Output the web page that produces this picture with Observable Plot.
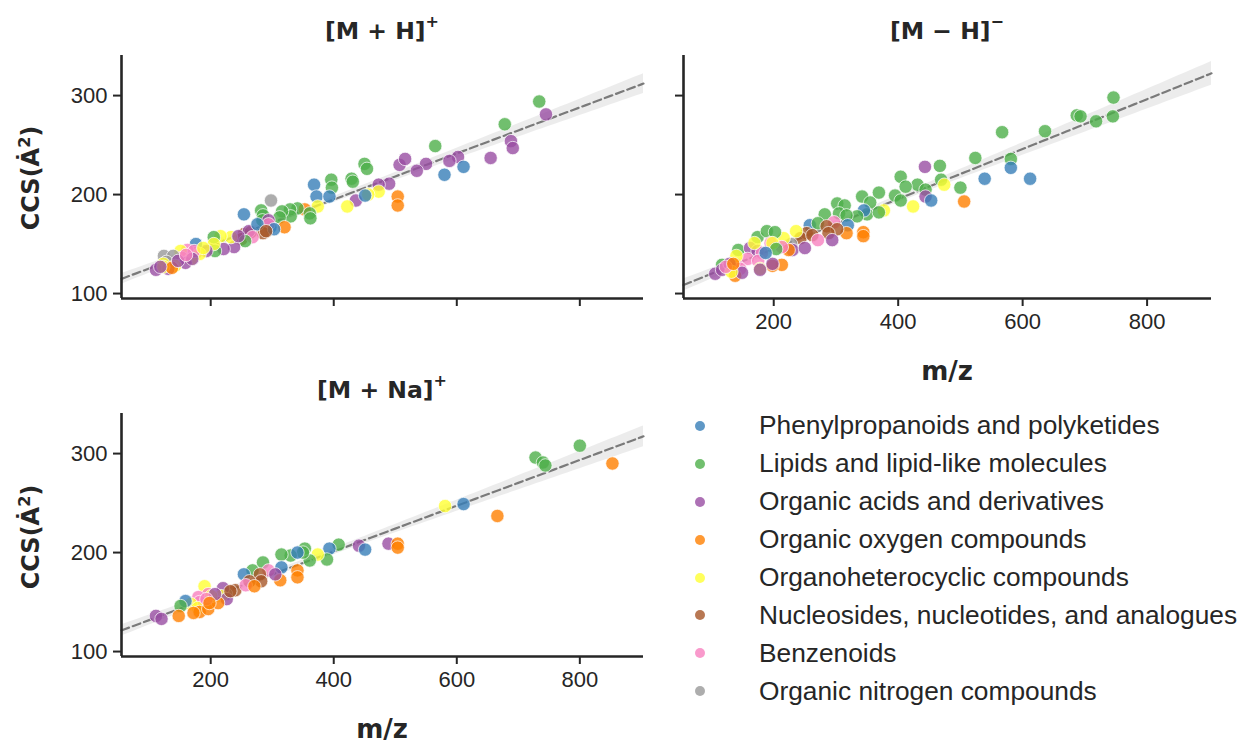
<!DOCTYPE html>
<html><head><meta charset="utf-8">
<script src="https://cdn.jsdelivr.net/npm/d3@7"></script>
<script src="https://cdn.jsdelivr.net/npm/@observablehq/plot@0.6"></script>
<style>
body{margin:0;background:#fff;font-family:"Liberation Sans",Arial,sans-serif;color:#262626;}
#wrap{position:relative;width:1249px;height:743px;overflow:hidden;}
.abs{position:absolute;}
.title{font-family:"DejaVu Sans",sans-serif;font-weight:bold;font-size:23.5px;transform:translate(-50%,-50%);white-space:nowrap;}
.title sup{font-size:16px;position:relative;top:-3px;}
.xlab{font-family:"DejaVu Sans",sans-serif;font-weight:bold;font-size:26px;transform:translate(-50%,-50%);}
.ylab{font-family:"DejaVu Sans",sans-serif;font-weight:bold;font-size:24px;transform:translate(-50%,-50%) rotate(-90deg);white-space:nowrap;}
.leg{position:absolute;left:683px;top:407px;font-size:26.3px;}
.leg .row{display:flex;align-items:center;height:37.9px;}
.leg .dot{width:10px;height:10px;border-radius:50%;margin-left:12px;margin-right:54px;}
</style></head><body><div id="wrap"></div>
<script>
// Categories (class index used in the panel arrays) and their colours
const categories = ["Phenylpropanoids and polyketides","Lipids and lipid-like molecules","Organic acids and derivatives","Organic oxygen compounds","Organoheterocyclic compounds","Nucleosides, nucleotides, and analogues","Benzenoids","Organic nitrogen compounds"];
const colors = ["#377eb8","#4daf4a","#984ea3","#ff7f00","#ffff33","#a65628","#f781bf","#999999"];
const xTicks = [200,400,600,800];
const yTicks = [100,200,300];
const xDomain = [55, 903.5];
const yDomain = [95, 340.5];

// [M+H]+
const mhPlusMz  = [734,745,678,688,691,655,565,602,588,611,580,550,535,507,516,490,473,504,504,473,456,436,422,451,450,454,429,431,396,397,368,372,393,298,374,353,361,362,341,329,330,316,312,254,282,285,284,297,320,294,294,285,254,250,265,262,268,256,238,221,233,216,205,207,205,193,176,176,162,151,182,153,168,159,124,139,128,123,142,111,131,123,137,173,303,170,276,245,188,147,118,290,160];
const mhPlusCcs = [294,281,271,254,247,237,249,238,234,228,220,231,224,230,236,211,210,198,189,203,200,194,188,199,231,226,216,213,215,207,210,198,198,194,188,185,181,176,186,185,178,183,177,180,184,179,174,167,167,174,170,161,160,155,162,163,157,153,147,145,157,158,157,143,150,143,150,141,144,143,140,136,135,131,138,138,132,130,128,124,125,127,126,143,165,135,170,158,146,133,127,163,139];
const mhPlusCls = [1,2,1,2,2,2,1,2,2,0,0,2,2,2,2,2,2,3,3,4,4,2,4,0,1,1,1,1,1,1,0,0,0,7,4,3,1,1,1,1,1,1,1,0,1,1,1,0,3,2,6,5,5,5,5,2,6,1,2,2,4,4,1,1,4,2,0,6,6,4,4,6,4,2,7,7,7,4,4,2,2,4,3,6,0,2,0,2,4,2,2,5,6];

// [M-H]-
const mhMinusMz  = [746,745,687,693,718,567,636,581,524,581,539,612,506,500,443,467,469,474,431,444,444,453,404,412,395,404,424,369,342,355,350,377,369,345,334,302,314,305,317,282,319,317,344,344,258,271,297,285,302,288,253,243,262,271,294,236,228,230,216,224,250,174,189,202,143,117,162,174,195,181,213,158,175,140,146,178,198,140,213,198,138,106,117,149,198,129,132,123,135,178,204,169,187];
const mhMinusCcs = [298,279,280,279,274,263,264,236,237,227,216,216,193,207,228,229,215,210,210,205,198,194,218,208,199,194,188,202,198,192,180,184,182,184,178,191,189,181,179,180,169,161,162,158,169,171,172,168,165,161,161,156,159,154,154,163,150,144,156,144,146,157,163,162,144,129,146,143,151,141,147,135,133,129,125,125,151,138,129,128,118,120,124,121,130,130,122,127,130,124,145,151,141];
const mhMinusCls = [1,1,1,1,1,1,1,1,1,0,0,0,3,1,2,1,1,4,1,1,2,0,1,1,1,1,4,1,1,1,1,4,1,0,1,1,1,1,1,1,0,3,3,3,0,1,6,5,5,5,5,5,5,6,2,4,7,2,4,3,2,1,1,1,1,1,2,2,6,6,6,6,6,6,6,4,4,4,3,3,3,2,2,2,2,2,4,6,3,2,1,4,0];

// [M+Na]+
const mnaMz  = [800,728,740,744,853,581,611,666,408,441,489,504,504,451,393,389,374,361,353,350,330,315,341,315,341,341,313,285,268,254,294,280,282,263,240,257,305,271,225,220,217,226,190,196,180,182,168,179,159,151,182,196,212,172,148,111,120,201,207,232,193,198];
const mnaCcs = [308,296,291,288,290,247,249,237,208,207,209,209,205,203,204,193,198,192,204,200,197,198,200,185,182,175,172,190,182,178,182,178,171,171,162,167,178,166,158,164,156,153,166,158,155,150,148,144,151,146,140,143,149,139,136,136,133,156,158,161,153,149];
const mnaCls = [1,1,1,1,3,4,0,3,1,2,2,3,3,0,0,1,4,1,1,1,1,1,0,0,3,3,3,1,1,0,6,5,5,5,5,6,2,3,7,2,4,2,4,6,6,6,4,4,0,1,3,3,3,3,3,2,2,4,2,5,6,3];

function rowsOf(mz, ccs, cls){ return mz.map((m,i)=>({mz:m, ccs:ccs[i], color:colors[cls[i]]})); }

function regression(rows){
  const n = rows.length, mx = d3.mean(rows, d=>d.mz), my = d3.mean(rows, d=>d.ccs);
  let sxx=0, sxy=0;
  for(const d of rows){ sxx += (d.mz-mx)**2; sxy += (d.mz-mx)*(d.ccs-my); }
  const b = sxy/sxx, a = my - b*mx;
  let sse = 0; for(const d of rows){ sse += (d.ccs-(a+b*d.mz))**2; }
  const s = Math.sqrt(sse/(n-2)), t = 1.98;
  const xs = d3.ticks(xDomain[0], xDomain[1], 60).concat(xDomain).sort((p,q)=>p-q);
  return xs.map(x=>{ const yh = a+b*x, se = s*Math.sqrt(1/n + (x-mx)**2/sxx); return {x, y:yh, lo:yh-t*se*1.3, hi:yh+t*se*1.3}; });
}

function panel(rows, o){
  const svg = Plot.plot({
    width:o.width, height:o.height, marginLeft:o.ml, marginRight:o.mr, marginTop:o.mt, marginBottom:o.mb,
    x:{domain:xDomain}, y:{domain:yDomain}, color:{type:"identity"},
    style:{fontFamily:'"Liberation Sans",Arial,sans-serif', fontSize:"22px", color:"#262626", background:"transparent", overflow:"visible"},
    marks:[
      Plot.areaY(regression(rows), {x:"x", y1:"lo", y2:"hi", fill:"#7f7f7f", fillOpacity:0.15}),
      Plot.lineY(regression(rows), {x:"x", y:"y", stroke:"#7a7a7a", strokeWidth:2.2, strokeDasharray:"8,4"}),
      Plot.dot(rows, {x:"mz", y:"ccs", r:6.7, fill:"color", fillOpacity:0.8, stroke:"white", strokeWidth:0.9, strokeOpacity:0.8}),
      Plot.axisX({ticks:xTicks, tickSize:8, tickPadding:7, strokeWidth:2, label:null, fontSize:22, tickFormat: o.xLabels ? (d=>String(d)) : (()=>"")}),
      Plot.axisY({ticks:yTicks, tickSize:8, tickPadding:6, strokeWidth:2, label:null, fontSize:22, tickFormat: o.yLabels ? (d=>String(d)) : (()=>"")}),
      Plot.ruleX([xDomain[0]], {stroke:"#262626", strokeWidth:2.6}),
      Plot.ruleY([yDomain[0]], {stroke:"#262626", strokeWidth:2.6})
    ]
  });
  svg.style.position = "absolute"; svg.style.left = o.left+"px"; svg.style.top = o.top+"px";
  return svg;
}

const wrap = document.getElementById("wrap");
wrap.appendChild(panel(rowsOf(mhPlusMz, mhPlusCcs, mhPlusCls), {left:0, top:0, width:660, height:320, ml:121, mr:17, mt:55, mb:22, xLabels:false, yLabels:true}));
wrap.appendChild(panel(rowsOf(mhMinusMz, mhMinusCcs, mhMinusCls), {left:600, top:0, width:649, height:350, ml:83, mr:38, mt:55, mb:52, xLabels:true, yLabels:false}));
wrap.appendChild(panel(rowsOf(mnaMz, mnaCcs, mnaCls), {left:0, top:358, width:660, height:350, ml:121, mr:17, mt:55, mb:52, xLabels:true, yLabels:true}));

function addText(cls, html, x, y){ const d=document.createElement("div"); d.className="abs "+cls; d.innerHTML=html; d.style.left=x+"px"; d.style.top=y+"px"; wrap.appendChild(d); }
addText("title", "[M + H]<sup>+</sup>", 382, 30);
addText("title", "[M − H]<sup>−</sup>", 947, 30);
addText("title", "[M + Na]<sup>+</sup>", 382, 389);
addText("xlab", "m/z", 947, 371);
addText("xlab", "m/z", 382, 729);
addText("ylab", "CCS(Ȧ<sup style='font-size:16px'>2</sup>)", 30, 178);
addText("ylab", "CCS(Ȧ<sup style='font-size:16px'>2</sup>)", 30, 537);

const leg = document.createElement("div"); leg.className="leg";
categories.forEach((c,i)=>{
  const r=document.createElement("div"); r.className="row";
  const dot=document.createElement("span"); dot.className="dot"; dot.style.background=colors[i]; dot.style.opacity=0.8;
  const t=document.createElement("span"); t.textContent=c;
  r.appendChild(dot); r.appendChild(t); leg.appendChild(r);
});
wrap.appendChild(leg);
</script></body></html>
